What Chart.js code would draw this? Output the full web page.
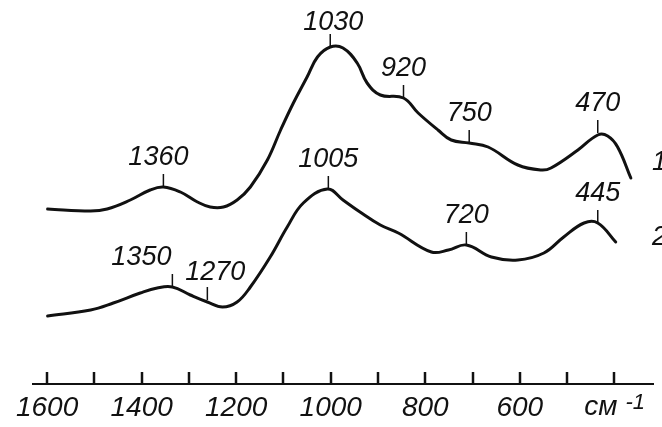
<!DOCTYPE html>
<html>
<head>
<meta charset="utf-8">
<script src="https://cdn.jsdelivr.net/npm/chart.js@4"></script>
<style>
  html, body { margin: 0; padding: 0; background: #fff; }
</style>
</head>
<body>
<canvas id="irChart" width="662" height="427"></canvas>
<script>
// spectrum 1 (upper curve), wavenumber in cm-1 and relative absorbance
const wave1 = [1599, 1508, 1473, 1424, 1382, 1354, 1318, 1282, 1255, 1227, 1198, 1170, 1134, 1106, 1079, 1050, 1028, 1001, 974, 944, 923, 895, 846, 815, 773, 745, 707, 667, 604, 555, 534, 477, 435, 414, 393, 365];
const abs1 = [175, 173, 175, 184, 194, 197, 192, 182, 177, 177, 184, 197, 224, 254, 281, 307, 327, 337, 336, 321, 301, 289, 286, 271, 254, 244, 241, 237, 219, 214, 216, 234, 249, 248, 237, 206];

// spectrum 2 (lower curve)
const wave2 = [1599, 1508, 1460, 1403, 1367, 1335, 1297, 1261, 1229, 1198, 1170, 1128, 1092, 1058, 1007, 974, 938, 895, 857, 787, 751, 713, 660, 604, 549, 507, 464, 435, 397];
const abs2 = [68, 74, 81, 91, 96, 97, 89, 82, 77, 82, 97, 127, 157, 181, 195, 184, 172, 159, 151, 132, 134, 139, 127, 124, 131, 147, 161, 161, 142];

// band labels
const peakText1 = ['1360', '1030', '920', '750', '470'];
const peakPos1 = [1354, 1001, 846, 707, 435];
const peakVal1 = [197, 337, 286, 241, 251];
const peakText2 = ['1350', '1270', '1005', '720', '445'];
const peakPos2 = [1335, 1261, 1005, 713, 435];
const peakVal2 = [97, 84, 195, 139, 161];

const seriesNames = ['1', '2'];
const tickValues = [1600, 1500, 1400, 1300, 1200, 1100, 1000, 900, 800, 700, 600, 500, 400];
const axisLabels = [1600, 1400, 1200, 1000, 800, 600];
const unitText = 'см';
const unitPower = '-1';

const FONT = "'Liberation Sans', Arial, sans-serif";
const INK = '#111';

function toPoints(xs, ys) {
    return xs.map((x, i) => ({ x: x, y: ys[i] }));
}

// small nudges for labels that are not centred over their mark
const nudge = { '1350': [-31, 0], '1270': [8, 2], '1030': [3, 5], '1360': [-5, 0] };

const decorPlugin = {
    id: 'decor',
    afterDraw(chart) {
        const ctx = chart.ctx;
        const xs = chart.scales.x;
        const ys = chart.scales.y;
        const area = chart.chartArea;
        ctx.save();
        ctx.strokeStyle = INK;
        ctx.fillStyle = INK;

        // axis line with upward tick marks
        ctx.lineWidth = 2;
        ctx.beginPath();
        ctx.moveTo(area.left, area.bottom);
        ctx.lineTo(area.right, area.bottom);
        ctx.stroke();
        ctx.lineWidth = 2.5;
        tickValues.forEach(v => {
            const px = Math.round(xs.getPixelForValue(v));
            ctx.beginPath();
            ctx.moveTo(px, area.bottom);
            ctx.lineTo(px, area.bottom - 12);
            ctx.stroke();
        });

        // unit "см -1" under the last tick
        const ux = xs.getPixelForValue(400) - 30;
        ctx.textBaseline = 'alphabetic';
        ctx.textAlign = 'left';
        ctx.font = 'italic 28px ' + FONT;
        ctx.fillText(unitText, ux, area.bottom + 31);
        const uw = ctx.measureText(unitText).width;
        ctx.font = 'italic 22px ' + FONT;
        ctx.fillText(unitPower, ux + uw + 8, area.bottom + 25);

        // band marks and numbers
        ctx.font = 'italic 27px ' + FONT;
        ctx.textAlign = 'center';
        ctx.textBaseline = 'middle';
        ctx.lineWidth = 1.5;
        const drawPeaks = (texts, pos, vals) => {
            texts.forEach((t, i) => {
                const px = xs.getPixelForValue(pos[i]);
                const py = ys.getPixelForValue(vals[i]);
                ctx.beginPath();
                ctx.moveTo(px, py);
                ctx.lineTo(px, py - 13);
                ctx.stroke();
                const n = nudge[t] || [0, 0];
                ctx.fillText(t, px + n[0], py - 13 - 17 + n[1]);
            });
        };
        drawPeaks(peakText1, peakPos1, peakVal1);
        drawPeaks(peakText2, peakPos2, peakVal2);

        // curve numbers at the right edge
        ctx.textAlign = 'left';
        ctx.fillText(seriesNames[0], xs.getPixelForValue(320), ys.getPixelForValue(222));
        ctx.fillText(seriesNames[1], xs.getPixelForValue(320), ys.getPixelForValue(147));
        ctx.restore();
    }
};

const lineStyle = {
    borderColor: INK,
    borderWidth: 3,
    pointRadius: 0,
    fill: false,
    tension: 0.4,
    borderCapStyle: 'round',
    borderJoinStyle: 'round'
};

new Chart(document.getElementById('irChart').getContext('2d'), {
    type: 'line',
    data: {
        datasets: [
            { label: seriesNames[0], data: toPoints(wave1, abs1), ...lineStyle },
            { label: seriesNames[1], data: toPoints(wave2, abs2), ...lineStyle }
        ]
    },
    options: {
        responsive: false,
        animation: false,
        layout: { padding: { left: 32, right: 8, top: 0, bottom: 0 } },
        plugins: {
            legend: { display: false },
            tooltip: { enabled: false }
        },
        scales: {
            x: {
                type: 'linear',
                reverse: true,
                min: 316,
                max: 1632,
                afterBuildTicks: scale => {
                    scale.ticks = tickValues.map(v => ({ value: v }));
                },
                afterFit: scale => {
                    scale.height = 43;
                },
                grid: { display: false, drawTicks: false },
                border: { display: false },
                ticks: {
                    autoSkip: false,
                    maxRotation: 0,
                    minRotation: 0,
                    padding: 7,
                    color: INK,
                    font: { family: FONT, size: 28, style: 'italic' },
                    callback: value => axisLabels.includes(value) ? String(value) : ''
                }
            },
            y: {
                display: false,
                min: 0,
                max: 384
            }
        }
    },
    plugins: [decorPlugin]
});
</script>
</body>
</html>
